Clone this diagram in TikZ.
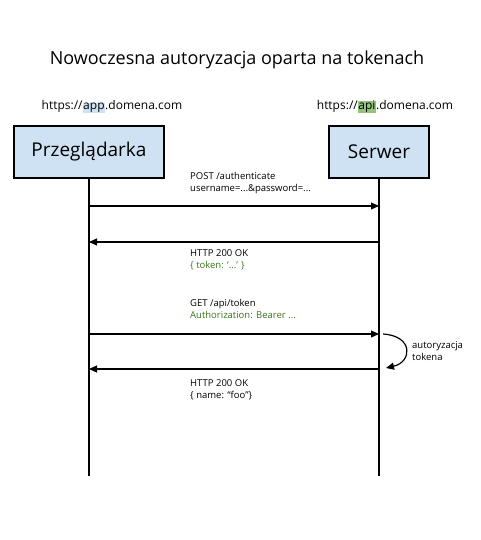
\documentclass[tikz,border=0pt]{standalone}
\usepackage{fontspec}
\setmainfont{Open Sans}
\usetikzlibrary{arrows.meta}
\definecolor{boxblue}{HTML}{CFE2F3}
\definecolor{hlgreen}{HTML}{93C47D}
\definecolor{txtgreen}{HTML}{38761D}
\tikzset{
  actor/.style={draw, line width=1.2pt, fill=boxblue, minimum width=#1, minimum height=52pt, inner sep=0pt, font=\fontsize{19}{22}\selectfont},
  life/.style={line width=1.2pt},
  msg/.style={line width=1.2pt, -{Triangle[length=8pt, width=7pt]}},
  lbl/.style={anchor=north west, align=left, inner sep=0pt, font=\fontsize{9.5}{12.5}\selectfont},
  url/.style={inner sep=0pt, font=\fontsize{12}{15}\selectfont}
}
\newcommand{\hlpart}[2]{{\setlength{\fboxsep}{0.6pt}\colorbox{#1}{#2}}}

\begin{document}
\begin{tikzpicture}[x=1pt, y=-1pt]
  \useasboundingbox (0,0) rectangle (480,540);

  \node[font=\fontsize{18}{22}\selectfont] (title) at (237,60) {Nowoczesna autoryzacja oparta na tokenach};

  % uczestnicy
  \node[url] (appurl) at (112,107) {https://\hlpart{boxblue}{app}.domena.com};
  \node[url] (apiurl) at (385,107) {https://\hlpart{hlgreen}{api}.domena.com};
  \node[actor=150pt] (br) at (89,152) {Przeglądarka};
  \node[actor=100pt] (srv) at (379,152) {Serwer};

  % linie zycia
  \coordinate (brend) at (89,476);
  \coordinate (srvend) at (379,476);
  \draw[life] (br.south) -- (brend);
  \draw[life] (srv.south) -- (srvend);

  % punkty komunikatow
  \coordinate (b1) at (89,206);  \coordinate (s1) at (379,206);
  \coordinate (b2) at (89,242);  \coordinate (s2) at (379,242);
  \coordinate (b3) at (89,334);  \coordinate (s3) at (379,334);
  \coordinate (b4) at (89,369);  \coordinate (s4) at (379,369);
  \coordinate (sa) at (383,334); \coordinate (sb) at (386,368);

  \draw[msg] (b1) -- (s1);
  \node[lbl] (m1) at (190,172) {POST /authenticate\\username=...\&password=...};

  \draw[msg] (s2) -- (b2);
  \node[lbl] (m2) at (190,249) {HTTP 200 OK\\\textcolor{txtgreen}{\{ token: `...' \}}};

  \draw[msg] (b3) -- (s3);
  \node[lbl] (m3) at (190,299) {GET /api/token\\\textcolor{txtgreen}{Authorization: Bearer ...}};

  \draw[msg] (s4) -- (b4);
  \node[lbl] (m4) at (190,379) {HTTP 200 OK\\\{ name: ``foo''\}};

  % weryfikacja po stronie serwera
  \draw[msg] (sa) .. controls (414,336) and (412,362) .. (sb);
  \node[lbl] (auth) at (412,341) {autoryzacja\\tokena};
\end{tikzpicture}
\end{document}
